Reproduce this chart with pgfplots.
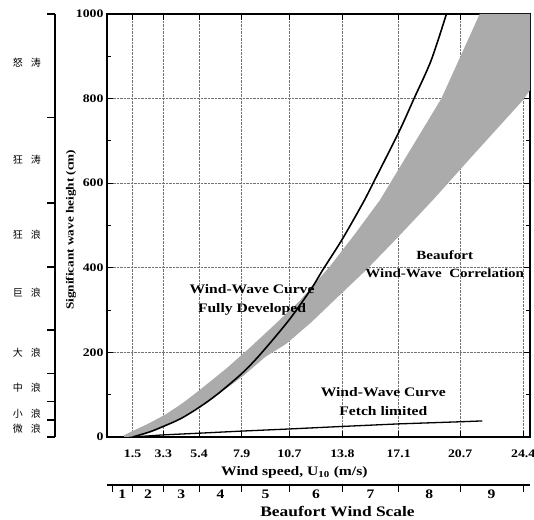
\documentclass[border=0pt]{standalone}
\usepackage{fontspec}
\setmainfont{Liberation Serif}[FakeStretch=1.2]
\newfontfamily\cjk{Noto Sans CJK SC}
\usepackage{pgfplots}
\pgfplotsset{compat=1.18}
\begin{document}
\begin{tikzpicture}
\useasboundingbox (-107pt,-82pt) rectangle (427pt,437pt);
% ---------------- main axis ----------------
\begin{axis}[
  at={(0pt,0pt)}, anchor=south west,
  scale only axis, width=423pt, height=423pt,
  xmin=0, xmax=24.8, ymin=0, ymax=1000,
  xtick={1.5,3.3,5.4,7.9,10.7,13.8,17.1,20.7,24.4},
  xticklabels={1.5,3.3,5.4,7.9,10.7,13.8,17.1,20.7,24.4},
  ytick={0,200,400,600,800,1000},
  minor ytick={100,300,500,700,900},
  grid=major,
  major grid style={densely dotted, black!55, line width=0.6pt},
  axis line style={line width=1.6pt},
  every tick/.style={black, line width=1.1pt},
  major tick length=6pt, minor tick length=4pt,
  /pgf/number format/assume math mode=true,
  /pgf/number format/1000 sep={},
  tick label style={font=\fontsize{11.5}{11.5}\selectfont\bfseries},
  xticklabel style={yshift=-9pt},
  xlabel={Wind speed, U\textsubscript{10} (m/s)},
  xlabel style={at={(axis description cs:0.443,-0.083)}, anchor=center, font=\fontsize{13}{13}\selectfont\bfseries},
  ylabel={Significant wave height (cm)},
  ylabel style={at={(axis description cs:-0.085,0.49)}, anchor=center, font=\fontsize{11}{12}\selectfont\bfseries},
  clip mode=individual,
]
% Beaufort wind-wave correlation band
\addplot[draw=none, fill=black!33] coordinates {
  (1.0,4) (1.5,14) (2.5,33) (3.5,55) (4.5,82) (5.4,110) (7.0,162) (8.4,212)
  (10.0,272) (11.3,322) (13.1,405) (14.5,478) (16.0,560) (17.8,680) (19.6,800)
  (21.85,1000) (24.8,1000) (24.8,820) (24.4,797) (21.5,668) (19.1,560)
  (17.0,470) (15.2,395) (13.5,330) (12.0,272) (10.5,220) (9.3,190) (8.0,145)
  (7.0,115) (5.4,72) (4.3,45) (3.3,25) (2.4,10) (1.5,1) (1.0,0)
} -- cycle;
% Fully developed
\addplot[black, line width=1.6pt, smooth] coordinates {
  (1.5,0) (2.5,12) (3.3,25) (4.3,43) (5.4,70) (6.5,102) (7.9,150) (9.0,196)
  (10.7,278) (12.0,352) (12.65,395) (13.8,468) (15.0,553) (15.6,600)
  (17.1,720) (18.0,800) (19.0,890) (19.9,1000)
};
% Fetch limited
\addplot[black, line width=1.3pt] coordinates {
  (1.5,0) (3.3,5) (5.4,9) (7.9,14) (10.7,19) (13.8,25) (17.1,31) (20.7,36) (22.0,38)
};
\node[align=center, font=\fontsize{13}{19}\selectfont\bfseries] at (axis cs:8.5,324) {Wind-Wave Curve\\Fully Developed};
\node[align=center, font=\fontsize{12.5}{18}\selectfont\bfseries] at (axis cs:19.8,409) {Beaufort\\Wind-Wave\ \ Correlation};
\node[align=center, font=\fontsize{13}{19}\selectfont\bfseries] at (axis cs:16.2,83) {Wind-Wave Curve\\Fetch limited};
\end{axis}
% ---------------- Beaufort wind scale axis ----------------
\begin{axis}[
  at={(0pt,-48pt)}, anchor=south west,
  scale only axis, width=423pt, height=1pt,
  xmin=0, xmax=24.8, ymin=0, ymax=1,
  hide y axis, axis x line*=bottom,
  axis line style={line width=1.4pt},
  xtick={0.3,1.5,3.3,5.4,7.9,10.7,13.8,17.1,20.7,24.4},
  xticklabels={1,2,3,4,5,6,7,8,9},
  x tick label as interval,
  tick align=outside,
  every tick/.style={black, line width=1.1pt},
  major tick length=7pt,
  minor x tick num=4, minor tick length=2pt,
  tick label style={font=\fontsize{13}{13}\selectfont\bfseries},
  xticklabel style={yshift=6pt},
  xlabel={Beaufort Wind Scale},
  xlabel style={at={(axis description cs:0.545,0)}, yshift=-26pt, anchor=center, font=\fontsize{14.5}{14.5}\selectfont\bfseries},
]
\end{axis}
% ---------------- Chinese sea-state scale ----------------
\begin{axis}[
  at={(-52pt,0pt)}, anchor=south west,
  scale only axis, width=1pt, height=423pt,
  xmin=0, xmax=1, ymin=0, ymax=1000,
  hide x axis, axis y line*=left,
  axis line style={line width=1.4pt},
  ytick={0,40,83,151,253,402,553,756,1000},
  yticklabels={},
  tick align=outside,
  every tick/.style={black, line width=1.2pt},
  major tick length=8pt,
  clip=false,
]
\foreach \yy/\lab in {884/怒\hspace{8pt}涛, 655/狂\hspace{8pt}涛, 478/狂\hspace{8pt}浪, 340/巨\hspace{8pt}浪, 200/大\hspace{8pt}浪, 116/中\hspace{8pt}浪, 56/小\hspace{8pt}浪, 20/微\hspace{8pt}浪}{
  \edef\temp{\noexpand\node[font=\noexpand\cjk\noexpand\fontsize{10}{10}\noexpand\selectfont] at ([xshift=-28pt]axis cs:0,\yy) {\unexpanded\expandafter{\lab}};}
  \temp
}
\end{axis}
% ruler ticks on the right side of the sea-state scale
\begin{axis}[
  at={(-52pt,0pt)}, anchor=south west,
  scale only axis, width=1pt, height=423pt,
  xmin=0, xmax=1, ymin=0, ymax=1000,
  hide x axis, axis y line*=left,
  axis line style={draw=none},
  ytick=\empty,
  minor ytick={0,10,...,1000},
  tick align=inside,
  every tick/.style={black, line width=0.5pt},
  minor tick length=2.5pt,
]
\end{axis}
\end{tikzpicture}
\end{document}
